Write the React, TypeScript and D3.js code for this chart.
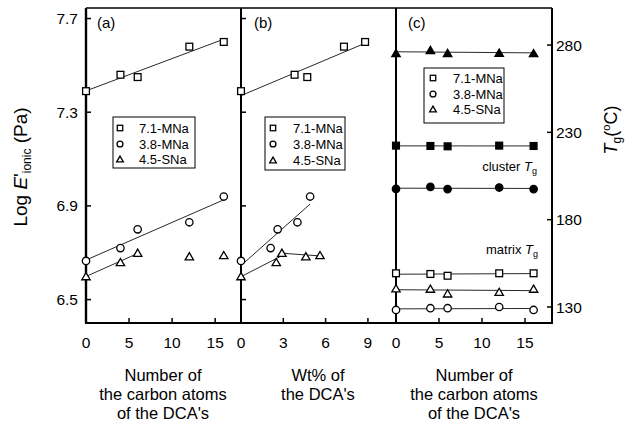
import React from "react";
import * as d3 from "d3";

const carbons = [0, 4, 6, 12, 16];
const logE71 = [7.39, 7.46, 7.45, 7.58, 7.6];
const logE38 = [6.665, 6.72, 6.8, 6.83, 6.94];
const logE45 = [6.6, 6.66, 6.7, 6.685, 6.69];

const wt71 = [0, 3.8, 4.7, 7.3, 8.8];
const wt38 = [0, 2.1, 2.6, 4.0, 4.9];
const wt45 = [0, 2.5, 2.9, 4.6, 5.6];

const clusterTg71 = [222.4, 222.2, 222.0, 222.4, 222.2];
const clusterTg38 = [197.6, 198.8, 197.5, 198.4, 197.5];
const clusterTg45 = [275.5, 277.2, 275.5, 275.6, 275.4];
const matrixTg71 = [149.3, 148.9, 147.9, 149.3, 149.3];
const matrixTg38 = [128.3, 129.3, 129.3, 130.0, 128.3];
const matrixTg45 = [140.7, 140.5, 137.8, 138.7, 140.5];

const yTicksE = [6.5, 6.9, 7.3, 7.7];
const yTicksTg = [130, 180, 230, 280];
const xTicksA = [0, 5, 10, 15];
const xTicksB = [0, 3, 6, 9];
const xTicksC = [0, 5, 10, 15];
const legendNames = ["7.1-MNa", "3.8-MNa", "4.5-SNa"];
const legendShapes = ["square", "circle", "triangle"];

const FONT = "'Liberation Sans', Arial, Helvetica, sans-serif";
const TOP = 8;
const BOTTOM = 323;

const xA = d3.scaleLinear().domain([0, 18]).range([86, 241]);
const xB = d3.scaleLinear().domain([0, 10.99]).range([241, 396]);
const xC = d3.scaleLinear().domain([0, 18.14]).range([396, 552]);
const yE = d3.scaleLinear().domain([6.4, 7.745]).range([BOTTOM, TOP]);
const yT = d3.scaleLinear().domain([120.84, 301.2]).range([BOTTOM, TOP]);

// least squares fit over a slice, returned as two end points
function fitLine(xs, ys, from = 0, to = xs.length - 1) {
  const px = xs.slice(from, to + 1);
  const py = ys.slice(from, to + 1);
  const mx = d3.mean(px);
  const my = d3.mean(py);
  let sxy = 0;
  let sxx = 0;
  px.forEach((v, i) => {
    sxy += (v - mx) * (py[i] - my);
    sxx += (v - mx) * (v - mx);
  });
  const k = sxx ? sxy / sxx : 0;
  const b = my - k * mx;
  return [
    [px[0], b + k * px[0]],
    [px[px.length - 1], b + k * px[px.length - 1]],
  ];
}

function Marker({ shape, cx, cy, filled, s = 1 }) {
  const fill = filled ? "#000" : "#fff";
  const sw = 1.3;
  if (shape === "square") {
    const h = 3.4 * s;
    return <rect x={cx - h} y={cy - h} width={2 * h} height={2 * h} fill={fill} stroke="#000" strokeWidth={sw} />;
  }
  if (shape === "circle") {
    return <circle cx={cx} cy={cy} r={3.7 * s} fill={fill} stroke="#000" strokeWidth={sw} />;
  }
  const w = 4.2 * s;
  const h = 3.6 * s;
  return (
    <path
      d={`M${cx},${cy - h}L${cx + w},${cy + h}L${cx - w},${cy + h}Z`}
      fill={fill}
      stroke="#000"
      strokeWidth={sw}
    />
  );
}

function Series({ xs, ys, x, y, shape, filled }) {
  return (
    <g>
      {xs.map((v, i) => (
        <Marker key={i} shape={shape} cx={x(v)} cy={y(ys[i])} filled={filled} />
      ))}
    </g>
  );
}

function Fit({ seg, x, y }) {
  const line = d3
    .line()
    .x((d) => x(d[0]))
    .y((d) => y(d[1]));
  return <path d={line(seg)} fill="none" stroke="#111" strokeWidth={0.9} />;
}

function Legend({ x0, y0, w, h, rows, mx, tx }) {
  return (
    <g>
      <rect x={x0} y={y0} width={w} height={h} fill="#fff" stroke="#000" strokeWidth={1} />
      {legendNames.map((n, i) => (
        <g key={n}>
          <Marker shape={legendShapes[i]} cx={mx} cy={rows[i]} filled={false} s={0.8} />
          <text x={tx} y={rows[i] + 4.5} fontSize={13} fontFamily={FONT}>
            {n}
          </text>
        </g>
      ))}
    </g>
  );
}

function XTicks({ x, ticks }) {
  return (
    <g>
      {ticks.map((t) => (
        <g key={t}>
          {t !== 0 && <line x1={x(t)} x2={x(t)} y1={BOTTOM} y2={BOTTOM - 5} stroke="#000" strokeWidth={1.5} />}
          <text x={x(t)} y={BOTTOM + 25} textAnchor="middle" fontSize={15.5} fontFamily={FONT}>
            {t}
          </text>
        </g>
      ))}
    </g>
  );
}

function XTitle({ cx, lines }) {
  return (
    <text textAnchor="middle" fontSize={16.5} fontFamily={FONT}>
      {lines.map((l, i) => (
        <tspan key={i} x={cx} y={381 + i * 19}>
          {l}
        </tspan>
      ))}
    </text>
  );
}

export default function App() {
  const segA71 = fitLine(carbons, logE71);
  const segA38 = fitLine(carbons, logE38);
  const segA45 = fitLine(carbons, logE45, 0, 2);
  const segB71 = fitLine(wt71, logE71);
  const segB38 = fitLine(wt38, logE38);
  const segB45a = fitLine(wt45, logE45, 0, 2);
  const segB45b = fitLine(wt45, logE45, 2, 4);
  const tgSeries = [
    [clusterTg71, "square", true],
    [clusterTg38, "circle", true],
    [clusterTg45, "triangle", true],
    [matrixTg71, "square", false],
    [matrixTg38, "circle", false],
    [matrixTg45, "triangle", false],
  ];

  return (
    <svg width={628} height={423} style={{ position: "absolute", left: 0, top: 0, background: "#fff" }}>
      {/* fit lines */}
      <Fit seg={segA71} x={xA} y={yE} />
      <Fit seg={segA38} x={xA} y={yE} />
      <Fit seg={segA45} x={xA} y={yE} />
      <Fit seg={segB71} x={xB} y={yE} />
      <Fit seg={segB38} x={xB} y={yE} />
      <Fit seg={segB45a} x={xB} y={yE} />
      <Fit seg={segB45b} x={xB} y={yE} />
      {tgSeries.map(([vals], i) => (
        <Fit key={i} seg={fitLine(carbons, vals)} x={xC} y={yT} />
      ))}

      {/* frame */}
      <line x1={86} x2={552} y1={TOP} y2={TOP} stroke="#000" strokeWidth={1.5} />
      <line x1={85} x2={553} y1={BOTTOM} y2={BOTTOM} stroke="#000" strokeWidth={2} />
      <line x1={86} x2={86} y1={TOP} y2={BOTTOM} stroke="#000" strokeWidth={2.4} />
      <line x1={241} x2={241} y1={TOP} y2={BOTTOM} stroke="#000" strokeWidth={2} />
      <line x1={396} x2={396} y1={TOP} y2={BOTTOM} stroke="#000" strokeWidth={2} />
      <line x1={552} x2={552} y1={TOP} y2={BOTTOM} stroke="#000" strokeWidth={2} />

      {/* y ticks, left */}
      {yTicksE.map((t) => (
        <g key={t}>
          <line x1={86} x2={91} y1={yE(t)} y2={yE(t)} stroke="#000" strokeWidth={1.5} />
          <line x1={241} x2={246} y1={yE(t)} y2={yE(t)} stroke="#000" strokeWidth={1.5} />
          <text x={78} y={yE(t) + 5.5} textAnchor="end" fontSize={15.5} fontFamily={FONT}>
            {t.toFixed(1)}
          </text>
        </g>
      ))}
      {/* y ticks, right */}
      {yTicksTg.map((t) => (
        <g key={t}>
          <line x1={547} x2={552} y1={yT(t)} y2={yT(t)} stroke="#000" strokeWidth={1.5} />
          <text x={556} y={yT(t) + 5.5} fontSize={15.5} fontFamily={FONT}>
            {t}
          </text>
        </g>
      ))}

      <XTicks x={xA} ticks={xTicksA} />
      <XTicks x={xB} ticks={xTicksB} />
      <XTicks x={xC} ticks={xTicksC} />

      {/* markers */}
      <Series xs={carbons} ys={logE71} x={xA} y={yE} shape="square" />
      <Series xs={carbons} ys={logE38} x={xA} y={yE} shape="circle" />
      <Series xs={carbons} ys={logE45} x={xA} y={yE} shape="triangle" />
      <Series xs={wt71} ys={logE71} x={xB} y={yE} shape="square" />
      <Series xs={wt38} ys={logE38} x={xB} y={yE} shape="circle" />
      <Series xs={wt45} ys={logE45} x={xB} y={yE} shape="triangle" />
      {tgSeries.map(([vals, shape, filled], i) => (
        <Series key={i} xs={carbons} ys={vals} x={xC} y={yT} shape={shape} filled={filled} />
      ))}

      {/* legends */}
      <Legend x0={113} y0={117} w={82} h={51} rows={[128, 144, 159]} mx={120} tx={139} />
      <Legend x0={265} y0={117} w={80} h={53} rows={[128, 144, 160]} mx={273} tx={293} />
      <Legend x0={424} y0={68} w={80} h={55} rows={[78, 94, 109]} mx={433} tx={453} />

      {/* panel labels */}
      <text x={97} y={28} fontSize={15} fontFamily={FONT}>(a)</text>
      <text x={254} y={28} fontSize={15} fontFamily={FONT}>(b)</text>
      <text x={408} y={28} fontSize={15} fontFamily={FONT}>(c)</text>

      <text x={537} y={171} textAnchor="end" fontSize={13} fontFamily={FONT}>
        cluster <tspan fontStyle="italic">T</tspan>
        <tspan fontSize={9} dy={3}>g</tspan>
      </text>
      <text x={538} y={254} textAnchor="end" fontSize={13} fontFamily={FONT}>
        matrix <tspan fontStyle="italic">T</tspan>
        <tspan fontSize={9} dy={3}>g</tspan>
      </text>

      {/* axis titles */}
      <text transform="translate(27,167) rotate(-90)" textAnchor="middle" fontSize={19} fontFamily={FONT}>
        Log <tspan fontStyle="italic">E</tspan>'
        <tspan fontSize={12} dy={4}>ionic</tspan>
        <tspan dy={-4}> (Pa)</tspan>
      </text>
      <text transform="translate(617,130) rotate(-90)" textAnchor="middle" fontSize={18} fontFamily={FONT}>
        <tspan fontStyle="italic">T</tspan>
        <tspan fontSize={12} dy={4}>g</tspan>
        <tspan dy={-4}>(</tspan>
        <tspan fontSize={11} dy={-7}>o</tspan>
        <tspan dy={7}>C)</tspan>
      </text>

      <XTitle cx={163} lines={["Number of", "the carbon atoms", "of the DCA's"]} />
      <XTitle cx={318} lines={["Wt% of", "the DCA's"]} />
      <XTitle cx={474} lines={["Number of", "the carbon atoms", "of the DCA's"]} />
    </svg>
  );
}
